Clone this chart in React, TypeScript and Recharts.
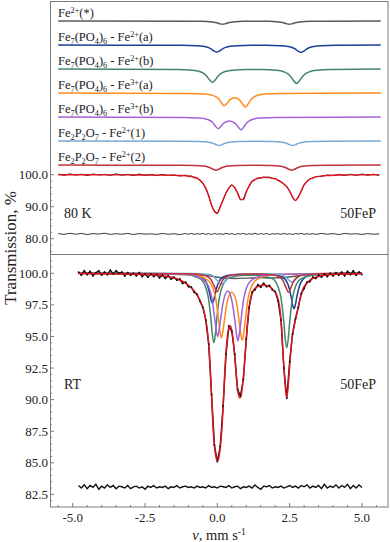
import React from 'react';
import { LineChart, Line, XAxis, YAxis } from 'recharts';

const FONT = '"Liberation Serif", "Times New Roman", serif';
const AXIS = '#7a7a7a';

// ---------- component names & colours ----------
const COMP_COLORS = ['#5a5a5a', '#1b3f94', '#41866c', '#ff8a1c', '#a063d8', '#74a9d8', '#c0323c'];
const COMP_LABELS: [string, string][][] = [
  [['Fe', ''], ['2+', 'sup'], ['(*)', '']],
  [['Fe', ''], ['7', 'sub'], ['(PO', ''], ['4', 'sub'], [')', ''], ['6', 'sub'], [' - Fe', ''], ['2+', 'sup'], ['(a)', '']],
  [['Fe', ''], ['7', 'sub'], ['(PO', ''], ['4', 'sub'], [')', ''], ['6', 'sub'], [' - Fe', ''], ['2+', 'sup'], ['(b)', '']],
  [['Fe', ''], ['7', 'sub'], ['(PO', ''], ['4', 'sub'], [')', ''], ['6', 'sub'], [' - Fe', ''], ['3+', 'sup'], ['(a)', '']],
  [['Fe', ''], ['7', 'sub'], ['(PO', ''], ['4', 'sub'], [')', ''], ['6', 'sub'], [' - Fe', ''], ['3+', 'sup'], ['(b)', '']],
  [['Fe', ''], ['2', 'sub'], ['P', ''], ['2', 'sub'], ['O', ''], ['7', 'sub'], [' - Fe', ''], ['2+', 'sup'], ['(1)', '']],
  [['Fe', ''], ['2', 'sub'], ['P', ''], ['2', 'sub'], ['O', ''], ['7', 'sub'], [' - Fe', ''], ['2+', 'sup'], ['(2)', '']],
];
// vertical offsets of the 80 K sub-spectra (transmission units)
const OFF80 = [48, 40.5, 33, 25.5, 18, 10.5, 3];

// ---------- axes ticks ----------
const X_TICKS = [-5.5, -5, -4.5, -4, -3.5, -3, -2.5, -2, -1.5, -1, -0.5, 0, 0.5, 1, 1.5, 2, 2.5, 3, 3.5, 4, 4.5, 5, 5.5];
const TOP_Y_TICKS = [76, 78, 80, 82, 84, 86, 88, 90, 92, 94, 96, 98, 100];
const BOT_Y_TICKS = [82, 82.5, 83, 83.5, 84, 84.5, 85, 85.5, 86, 86.5, 87, 87.5, 88, 88.5, 89, 89.5, 90, 90.5, 91, 91.5, 92, 92.5, 93, 93.5, 94, 94.5, 95, 95.5, 96, 96.5, 97, 97.5, 98, 98.5, 99, 99.5, 100, 100.5, 101, 101.5];

// ---------- 80 K spectrum ----------
const V80 = [
  -5.5, -5.3, -5.1, -4.9, -4.7, -4.5, -4.3, -4.1, -3.9, -3.7, -3.5, -3.3, -3.1, -2.9, -2.7, -2.5, -2.3, -2.1, -1.9, -1.7, -1.5, -1.3, -1.1,
  -1.0, -0.9, -0.8, -0.7, -0.6, -0.5, -0.4, -0.3, -0.2, -0.1,
  0.0, 0.1, 0.2, 0.3, 0.4, 0.5, 0.6, 0.7, 0.8, 0.9,
  1.0, 1.1, 1.2, 1.3, 1.4, 1.5, 1.6, 1.7, 1.8, 1.9,
  2.0, 2.1, 2.2, 2.3, 2.4, 2.5, 2.6, 2.7, 2.8, 2.9,
  3.0, 3.1, 3.2, 3.3, 3.4,
  3.6, 3.8, 4.0, 4.2, 4.4, 4.6, 4.8, 5.0, 5.2, 5.4, 5.6,
];
const FIT80 = [
  100, 100, 100, 100, 99.98, 99.98, 99.97, 99.97, 99.96, 99.96, 99.95, 99.95, 99.94, 99.93, 99.92, 99.91, 99.9, 99.88, 99.86, 99.83, 99.8, 99.75, 99.68,
  99.6, 99.45, 99.2, 98.85, 98.3, 97.3, 95.8, 93.4, 90.5, 88.5,
  87.95, 89.9, 92.2, 94.3, 95.9, 96.75, 96.0, 94.2, 92.3, 92.2,
  94.6, 96.5, 97.85, 98.5, 98.85, 99.05, 99.15, 99.2, 99.1, 98.95,
  98.7, 98.3, 97.75, 97.1, 96.2, 94.9, 92.9, 91.95, 93.0, 94.9,
  96.8, 97.9, 98.6, 99.0, 99.3,
  99.6, 99.75, 99.85, 99.9, 99.92, 99.94, 99.95, 99.96, 99.97, 99.98, 99.98,
];
const DATA80 = [
  100.2, 99.8, 100.25, 99.9, 100.15, 99.75, 100.2, 99.95, 100.1, 99.8, 100.25, 99.85, 100.1, 99.75, 100.2, 99.8, 100.05, 99.7, 100.1, 99.75, 99.95, 99.6, 99.85,
  99.45, 99.6, 99.05, 99.0, 98.15, 97.45, 95.65, 93.55, 90.35, 88.65,
  87.8, 90.05, 92.05, 94.45, 95.75, 96.9, 95.85, 94.35, 92.15, 92.35,
  94.75, 96.35, 98.0, 98.35, 99.0, 98.9, 99.3, 99.05, 99.25, 98.8,
  98.85, 98.15, 97.9, 96.95, 96.35, 94.75, 93.05, 91.8, 93.15, 94.75,
  96.95, 97.75, 98.75, 98.85, 99.45,
  99.45, 99.9, 99.7, 100.1, 99.75, 100.15, 99.8, 100.2, 99.85, 100.15, 99.8,
];
const RES80 = [
  81.6, 81.35, 81.7, 81.4, 81.65, 81.3, 81.6, 81.45, 81.7, 81.35, 81.55, 81.4, 81.65, 81.3, 81.6, 81.45, 81.5, 81.35, 81.65, 81.4, 81.55, 81.3, 81.6,
  81.4, 81.65, 81.35, 81.6, 81.4, 81.65, 81.35, 81.6, 81.3, 81.65,
  81.4, 81.55, 81.35, 81.7, 81.4, 81.6, 81.3, 81.6, 81.45, 81.65,
  81.35, 81.55, 81.4, 81.7, 81.35, 81.6, 81.4, 81.65, 81.3, 81.55,
  81.45, 81.6, 81.35, 81.65, 81.4, 81.55, 81.3, 81.6, 81.45, 81.7,
  81.35, 81.55, 81.4, 81.6, 81.35,
  81.65, 81.4, 81.6, 81.3, 81.65, 81.45, 81.55, 81.35, 81.6, 81.4, 81.5,
];

// 80 K sub-spectra (transmission, before offset)
const FE2S_80_V = [-5.5, -1.02, -0.52, -0.27, -0.12, -0.02, 0.08, 0.18, 0.28, 0.38, 0.48, 0.63, 0.88, 1.34, 1.79, 2.04, 2.19, 2.29, 2.39, 2.49, 2.59, 2.69, 2.79, 2.94, 3.19, 3.69, 5.65];
const FE2S_80 = [100, 99.97, 99.92, 99.82, 99.67, 99.48, 99.18, 99.0, 99.18, 99.48, 99.67, 99.82, 99.92, 99.96, 99.92, 99.82, 99.67, 99.48, 99.18, 99.0, 99.18, 99.48, 99.67, 99.82, 99.92, 99.97, 100];
const FE2A_80_V = [-5.5, -1.22, -0.72, -0.47, -0.32, -0.22, -0.12, -0.02, 0.08, 0.18, 0.28, 0.43, 0.68, 1.18, 1.69, 2.19, 2.44, 2.59, 2.69, 2.79, 2.89, 2.99, 3.09, 3.19, 3.34, 3.59, 4.09, 5.65];
const FE2A_80 = [100, 99.93, 99.82, 99.61, 99.28, 98.85, 98.21, 97.8, 98.21, 98.85, 99.28, 99.61, 99.82, 99.92, 99.92, 99.81, 99.59, 99.24, 98.79, 98.13, 97.7, 98.13, 98.79, 99.24, 99.59, 99.81, 99.93, 100];
const FE2B_80_V = [-5.5, -1.37, -0.87, -0.62, -0.47, -0.37, -0.27, -0.17, -0.07, 0.03, 0.13, 0.28, 0.53, 1.03, 1.54, 2.04, 2.29, 2.44, 2.54, 2.64, 2.74, 2.84, 2.94, 3.04, 3.19, 3.44, 3.94, 5.65];
const FE2B_80 = [100, 99.88, 99.66, 99.27, 98.65, 97.85, 96.66, 95.9, 96.66, 97.85, 98.65, 99.27, 99.66, 99.86, 99.86, 99.63, 99.19, 98.52, 97.64, 96.33, 95.5, 96.33, 97.64, 98.52, 99.19, 99.63, 99.87, 100];
const FE3A_80_V = [-5.5, -0.96, -0.46, -0.21, -0.06, 0.04, 0.14, 0.24, 0.34, 0.44, 0.605, 0.77, 0.87, 0.97, 1.07, 1.17, 1.27, 1.42, 1.67, 2.17, 5.65];
const FE3A_80 = [100, 99.89, 99.72, 99.42, 98.93, 98.22, 96.99, 96.03, 96.87, 97.96, 98.52, 97.83, 96.6, 95.65, 96.71, 98.07, 98.84, 99.38, 99.71, 99.89, 100];
const FE3B_80_V = [-5.5, -1.17, -0.67, -0.42, -0.27, -0.17, -0.07, 0.03, 0.13, 0.23, 0.425, 0.62, 0.72, 0.82, 0.92, 1.02, 1.12, 1.27, 1.52, 2.02, 5.65];
const FE3B_80 = [100, 99.9, 99.75, 99.47, 99.02, 98.38, 97.25, 96.37, 97.17, 98.19, 98.8, 98.05, 96.89, 95.99, 96.97, 98.22, 98.93, 99.43, 99.72, 99.9, 100];
const FE21_80_V = [-5.5, -1.14, -0.64, -0.39, -0.24, -0.14, -0.04, 0.06, 0.16, 0.26, 0.36, 0.51, 0.76, 1.33, 1.9, 2.15, 2.3, 2.4, 2.5, 2.6, 2.7, 2.8, 2.9, 3.05, 3.3, 3.8, 5.65];
const FE21_80 = [100, 99.96, 99.89, 99.76, 99.56, 99.29, 98.9, 98.65, 98.9, 99.29, 99.56, 99.76, 99.89, 99.94, 99.89, 99.76, 99.56, 99.29, 98.9, 98.65, 98.9, 99.29, 99.56, 99.76, 99.89, 99.96, 100];
const FE22_80_V = [-5.5, -1.25, -0.75, -0.5, -0.35, -0.25, -0.15, -0.05, 0.05, 0.15, 0.25, 0.4, 0.65, 1.26, 1.87, 2.12, 2.27, 2.37, 2.47, 2.57, 2.67, 2.77, 2.87, 3.02, 3.27, 3.77, 5.65];
const FE22_80 = [100, 99.95, 99.87, 99.71, 99.47, 99.16, 98.7, 98.4, 98.7, 99.16, 99.47, 99.71, 99.87, 99.92, 99.87, 99.71, 99.47, 99.16, 98.7, 98.4, 98.7, 99.16, 99.47, 99.71, 99.87, 99.95, 100];

// ---------- RT spectrum ----------
const VRT = [
  -4.8, -4.7, -4.6, -4.5, -4.4, -4.3, -4.2, -4.1, -4.0, -3.9,
  -3.8, -3.7, -3.6, -3.5, -3.4, -3.3, -3.2, -3.1, -3.0, -2.9,
  -2.8, -2.7, -2.6, -2.5, -2.4, -2.3, -2.2, -2.1, -2.0, -1.9,
  -1.8, -1.7, -1.6, -1.5, -1.4, -1.3, -1.2, -1.1, -1.0, -0.9,
  -0.8, -0.7, -0.6, -0.5, -0.4, -0.3, -0.2, -0.1, 0.0, 0.1,
  0.2, 0.3, 0.4, 0.5, 0.6, 0.7, 0.8, 0.9, 1.0, 1.1,
  1.2, 1.3, 1.4, 1.5, 1.6, 1.7, 1.8, 1.9, 2.0, 2.1,
  2.2, 2.3, 2.4, 2.5, 2.6, 2.7, 2.8, 2.9, 3.0, 3.1,
  3.2, 3.3, 3.4, 3.5, 3.6, 3.7, 3.8, 3.9, 4.0, 4.1,
  4.2, 4.3, 4.4, 4.5, 4.6, 4.7, 4.8, 4.9, 5.0,
];
const DATART = [
  100.1, 99.85, 100.2, 99.9, 100.15, 99.8, 100.05, 100.2, 99.85, 100.1,
  99.9, 100.25, 99.95, 100.2, 100.0, 100.1, 99.8, 100.05, 99.85, 100.0,
  99.8, 100.05, 99.75, 99.95, 99.7, 99.95, 99.75, 99.9, 99.65, 99.85,
  99.6, 99.8, 99.55, 99.7, 99.45, 99.55, 99.2, 99.3, 98.95, 98.9,
  98.5, 98.35, 97.8, 97.3, 96.3, 94.4, 90.4, 86.4, 85.1, 86.3,
  89.5, 93.6, 95.8, 95.4, 93.6, 90.8, 90.3, 91.6, 94.8, 97.3,
  98.5, 98.7, 99.1, 98.9, 99.2, 98.95, 99.05, 98.7, 98.55, 97.8,
  96.3, 92.5, 90.1, 93.0, 95.2, 96.4, 97.3, 98.4, 98.8, 99.3,
  99.35, 99.7, 99.6, 99.85, 99.7, 99.95, 99.75, 100.0, 99.8, 100.05,
  99.85, 100.1, 99.8, 100.15, 99.9, 100.2, 99.85, 100.1, 99.9,
];
const RESRT = [
  83.2, 83.0, 83.25, 82.95, 83.2, 83.05, 83.3, 82.9, 83.15, 83.0,
  83.25, 83.05, 83.2, 82.95, 83.15, 83.1, 83.0, 83.2, 82.95, 83.1,
  83.15, 83.0, 83.1, 82.9, 83.15, 83.05, 83.2, 83.0, 83.1, 83.05,
  83.15, 82.95, 83.1, 83.05, 83.2, 83.0, 83.1, 83.15, 83.05, 83.1,
  83.0, 83.15, 83.05, 83.1, 83.0, 83.2, 83.05, 83.1, 83.0, 83.15,
  83.1, 83.05, 83.2, 83.0, 83.1, 83.15, 82.95, 83.1, 83.05, 83.15,
  83.0, 83.25, 83.05, 82.9, 83.15, 83.1, 83.2, 83.0, 83.1, 83.05,
  83.15, 83.0, 83.1, 83.2, 83.05, 83.15, 83.0, 83.2, 83.1, 83.25,
  83.0, 83.15, 83.05, 83.2, 82.95, 83.3, 83.0, 83.15, 83.05, 83.25,
  83.0, 83.2, 83.05, 83.3, 82.95, 83.2, 83.0, 83.25, 83.05,
];
const VFITRT = [-4.8, -4.0, -3.0, -2.5, -2.0, -1.64, -1.18, -0.83, -0.6, -0.45, -0.35, -0.28, -0.22, -0.16, -0.1, -0.04, 0.01, 0.06, 0.11, 0.16, 0.21, 0.26, 0.32, 0.38, 0.44, 0.5, 0.56, 0.62, 0.68, 0.73, 0.78, 0.83, 0.88, 0.94, 0.99, 1.05, 1.13, 1.22, 1.35, 1.59, 1.8, 1.95, 2.05, 2.15, 2.22, 2.28, 2.34, 2.4, 2.46, 2.52, 2.58, 2.65, 2.74, 2.85, 2.95, 3.08, 3.3, 3.6, 4.0, 5.0];
const FITRT = [99.98, 99.97, 99.95, 99.9, 99.82, 99.73, 99.34, 98.68, 97.85, 96.9, 95.6, 93.9, 91.4, 88.3, 86.3, 85.4, 85.15, 85.5, 86.4, 87.8, 89.9, 92.3, 94.3, 95.5, 95.85, 95.5, 94.5, 92.9, 91.2, 90.4, 90.15, 90.4, 91.3, 92.9, 94.4, 96.3, 97.8, 98.5, 98.9, 99.07, 98.95, 98.65, 98.3, 97.4, 95.8, 93.3, 91.3, 90.15, 91.4, 93.3, 94.8, 95.8, 96.7, 97.9, 98.7, 99.2, 99.6, 99.8, 99.9, 99.97];

const FE2S_RT_V = [-4.8, -1.5, -0.8, -0.3, 0.2, 0.6, 1.0, 1.4, 1.8, 2.2, 2.6, 3.1, 3.8, 5.0];
const FE2S_RT = [100, 99.97, 99.92, 99.8, 99.65, 99.6, 99.62, 99.66, 99.63, 99.64, 99.75, 99.9, 99.97, 100];
const FE2A_RT_V = [-4.8, -1.17, -0.67, -0.47, -0.37, -0.27, -0.22, -0.17, -0.12, -0.07, 0.03, 0.13, 0.33, 0.9, 1.65, 2.15, 2.35, 2.45, 2.55, 2.6, 2.65, 2.7, 2.75, 2.85, 2.95, 3.15, 3.65, 5.0];
const FE2A_RT = [100, 99.96, 99.83, 99.58, 99.22, 98.45, 97.92, 97.65, 97.92, 98.45, 99.22, 99.58, 99.83, 99.93, 99.93, 99.8, 99.5, 99.08, 98.15, 97.52, 97.2, 97.52, 98.15, 99.08, 99.5, 99.8, 99.95, 100];
const FE2B_RT_V = [-4.8, -1.12, -0.62, -0.42, -0.32, -0.22, -0.17, -0.12, -0.07, -0.02, 0.08, 0.18, 0.38, 0.9, 1.4, 1.9, 2.1, 2.2, 2.3, 2.35, 2.4, 2.45, 2.5, 2.6, 2.7, 2.9, 3.4, 5.0];
const FE2B_RT = [100, 99.9, 99.6, 99.01, 98.19, 96.37, 95.12, 94.5, 95.12, 96.37, 98.19, 99.01, 99.6, 99.85, 99.85, 99.58, 98.94, 98.05, 96.1, 94.77, 94.1, 94.77, 96.1, 98.05, 98.94, 99.58, 99.89, 100];
const FE3A_RT_V = [-4.8, -0.86, -0.36, -0.16, -0.06, 0.04, 0.09, 0.14, 0.19, 0.24, 0.34, 0.5, 0.66, 0.76, 0.81, 0.86, 0.91, 0.96, 1.06, 1.16, 1.36, 1.86, 3.0, 5.0];
const FE3A_RT = [100, 99.88, 99.5, 98.9, 98.05, 96.4, 95.4, 94.9, 95.4, 96.2, 97.75, 98.5, 97.7, 96.1, 95.2, 94.7, 95.2, 96.2, 97.95, 98.85, 99.5, 99.87, 99.97, 100];
const FE3B_RT_V = [-4.8, -1.0, -0.49, -0.29, -0.19, -0.09, -0.04, 0.01, 0.06, 0.11, 0.21, 0.36, 0.51, 0.61, 0.66, 0.71, 0.76, 0.81, 0.91, 1.01, 1.21, 1.71, 3.0, 5.0];
const FE3B_RT = [100, 99.9, 99.5, 98.9, 98.05, 96.4, 95.5, 95.0, 95.5, 96.3, 97.8, 98.6, 97.75, 96.2, 95.2, 94.65, 95.2, 96.1, 97.95, 98.85, 99.5, 99.87, 99.97, 100];
const FE21_RT_V = [-4.8, -0.85, -0.35, -0.15, -0.05, 0.05, 0.15, 0.25, 0.35, 0.45, 0.65, 1.4, 2.08, 2.28, 2.38, 2.48, 2.58, 2.68, 2.78, 2.88, 3.08, 5.0];
const FE21_RT = [100, 99.98, 99.92, 99.8, 99.55, 99.3, 99.15, 99.3, 99.55, 99.78, 99.91, 99.96, 99.94, 99.84, 99.66, 99.45, 99.3, 99.45, 99.66, 99.84, 99.94, 100];
const FE22_RT_V = [-4.8, -1.0, -0.51, -0.31, -0.21, -0.11, -0.01, 0.09, 0.19, 0.29, 0.49, 1.2, 1.96, 2.16, 2.26, 2.36, 2.46, 2.56, 2.66, 2.76, 2.96, 3.5, 5.0];
const FE22_RT = [100, 99.96, 99.87, 99.7, 99.47, 99.0, 98.55, 99.0, 99.47, 99.7, 99.87, 99.95, 99.87, 99.7, 99.46, 98.97, 98.5, 98.97, 99.46, 99.7, 99.87, 99.97, 100];

// ---------- building tables ----------
type Pt = { v: number; t: number };
const rows = (vs: number[], ts: number[], off = 0): Pt[] => vs.map((v, i) => ({ v, t: ts[i] + off }));

const COMP80: [number[], number[]][] = [
  [FE2S_80_V, FE2S_80], [FE2A_80_V, FE2A_80], [FE2B_80_V, FE2B_80], [FE3A_80_V, FE3A_80],
  [FE3B_80_V, FE3B_80], [FE21_80_V, FE21_80], [FE22_80_V, FE22_80],
];
const COMPRT: [number[], number[]][] = [
  [FE2S_RT_V, FE2S_RT], [FE2A_RT_V, FE2A_RT], [FE2B_RT_V, FE2B_RT], [FE3A_RT_V, FE3A_RT],
  [FE3B_RT_V, FE3B_RT], [FE21_RT_V, FE21_RT], [FE22_RT_V, FE22_RT],
];

const XDOM: [number, number] = [-5.785, 5.9];
const TOP_DOM: [number, number] = [75.22, 154.28];
const BOT_DOM: [number, number] = [81.5, 101.53];

const isMajor = (v: number, step: number) => Math.abs(v / step - Math.round(v / step)) < 1e-6;

const XTick = (props: any) => {
  const { x, y, payload } = props;
  const val = payload.value as number;
  const major = isMajor(val, 2.5);
  return (
    <g>
      <line x1={x} x2={x} y1={y} y2={y - (major ? 4 : 2)} stroke={AXIS} />
      {major && (
        <text x={x} y={y + 15} textAnchor="middle" fontSize={13} fontFamily={FONT} fill="#222">
          {val.toFixed(1)}
        </text>
      )}
    </g>
  );
};

const makeYTick = (step: number) => (props: any) => {
  const { x, y, payload } = props;
  const val = payload.value as number;
  const major = isMajor(val, step);
  return (
    <g>
      <line x1={x} x2={x + (major ? 4 : 2)} y1={y} y2={y} stroke={AXIS} />
      {major && (
        <text x={x - 2} y={y + 4.5} textAnchor="end" fontSize={13} fontFamily={FONT} fill="#222">
          {val.toFixed(1)}
        </text>
      )}
    </g>
  );
};

const ChemLabel = ({ x, y, segs, size }: { x: number; y: number; segs: [string, string][]; size: number }) => {
  let cur = 0;
  return (
    <text x={x} y={y} fontSize={size} fontFamily={FONT} fill="#222">
      {segs.map(([s, k], i) => {
        const target = k === 'sup' ? -4 : k === 'sub' ? 3 : 0;
        const dy = target - cur;
        cur = target;
        return (
          <tspan key={i} dy={dy} fontSize={k ? size * 0.66 : size}>
            {s}
          </tspan>
        );
      })}
    </text>
  );
};

const lineProps = { dot: false, activeDot: false, isAnimationActive: false, dataKey: 't' } as const;

export default function App() {
  // pixel baselines of the 80 K sub-spectra labels
  const labelY = OFF80.map((o) => 174.7 - o * 3.2 - 4);
  return (
    <div style={{ position: 'absolute', left: 0, top: 0, width: 390, height: 542, background: '#fff', overflow: 'hidden' }}>
      <div style={{ position: 'absolute', left: 0, top: 0 }}>
        <LineChart width={390} height={254} margin={{ top: 1, right: 2, bottom: 0, left: 0 }}>
          <XAxis type="number" dataKey="v" domain={XDOM} allowDataOverflow hide />
          <YAxis
            type="number"
            domain={TOP_DOM}
            allowDataOverflow
            ticks={TOP_Y_TICKS}
            interval={0}
            tick={makeYTick(10)}
            tickLine={false}
            axisLine={false}
            tickSize={0}
            tickMargin={0}
            width={50}
          />
          {COMP80.map(([vs, ts], i) => (
            <Line key={'c80' + i} {...lineProps} data={rows(vs, ts, OFF80[i])} type="monotone" stroke={COMP_COLORS[i]} strokeWidth={1.5} />
          ))}
          <Line {...lineProps} data={rows(V80, DATA80)} type="linear" stroke="#111" strokeWidth={1} />
          <Line {...lineProps} data={rows(V80, FIT80)} type="monotone" stroke="#e0141e" strokeWidth={1.4} />
          <Line {...lineProps} data={rows(V80, RES80)} type="linear" stroke="#222" strokeWidth={0.9} />
        </LineChart>
      </div>
      <div style={{ position: 'absolute', left: 0, top: 254 }}>
        <LineChart width={390} height={288} margin={{ top: 0, right: 2, bottom: 0, left: 0 }}>
          <XAxis
            type="number"
            dataKey="v"
            domain={XDOM}
            allowDataOverflow
            ticks={X_TICKS}
            interval={0}
            tick={XTick}
            tickLine={false}
            axisLine={false}
            tickSize={0}
            tickMargin={0}
            height={35}
          />
          <YAxis
            type="number"
            domain={BOT_DOM}
            allowDataOverflow
            ticks={BOT_Y_TICKS}
            interval={0}
            tick={makeYTick(2.5)}
            tickLine={false}
            axisLine={false}
            tickSize={0}
            tickMargin={0}
            width={50}
          />
          {COMPRT.map(([vs, ts], i) => (
            <Line key={'crt' + i} {...lineProps} data={rows(vs, ts)} type="monotone" stroke={COMP_COLORS[i]} strokeWidth={1.5} />
          ))}
          <Line {...lineProps} data={rows(VRT, DATART)} type="linear" stroke="#111" strokeWidth={1.4} />
          <Line {...lineProps} data={rows(VFITRT, FITRT)} type="monotone" stroke="#e0141e" strokeWidth={1.5} />
          <Line
            {...lineProps}
            data={rows(VRT, DATART)}
            type="linear"
            stroke="none"
            dot={{ r: 0.9, fill: '#111', stroke: 'none' }}
          />
          <Line {...lineProps} data={rows(VRT, RESRT)} type="linear" stroke="#111" strokeWidth={1.4} />
        </LineChart>
      </div>
      <svg width={390} height={542} style={{ position: 'absolute', left: 0, top: 0, pointerEvents: 'none' }}>
        <rect x={50.5} y={1.5} width={337.5} height={505.5} fill="none" stroke={AXIS} strokeWidth={1} />
        <line x1={50.5} x2={388} y1={254.5} y2={254.5} stroke={AXIS} strokeWidth={1} />
        {COMP_LABELS.map((segs, i) => (
          <ChemLabel key={i} x={58} y={labelY[i]} segs={segs} size={12.5} />
        ))}
        <text x={64} y={218} fontSize={14} fontFamily={FONT} fill="#222">80 K</text>
        <text x={376} y={218} fontSize={14} fontFamily={FONT} fill="#222" textAnchor="end">50FeP</text>
        <text x={64} y={389} fontSize={14} fontFamily={FONT} fill="#222">RT</text>
        <text x={376} y={389} fontSize={14} fontFamily={FONT} fill="#222" textAnchor="end">50FeP</text>
        <text transform="translate(16,248) rotate(-90)" textAnchor="middle" fontSize={17} fontFamily={FONT} fill="#222">
          Transmission, %
        </text>
        <text x={219} y={540} textAnchor="middle" fontSize={14.5} fontFamily={FONT} fill="#222">
          <tspan fontStyle="italic">v</tspan>
          <tspan>, mm s</tspan>
          <tspan dy={-5} fontSize={9.5}>-1</tspan>
        </text>
      </svg>
    </div>
  );
}
